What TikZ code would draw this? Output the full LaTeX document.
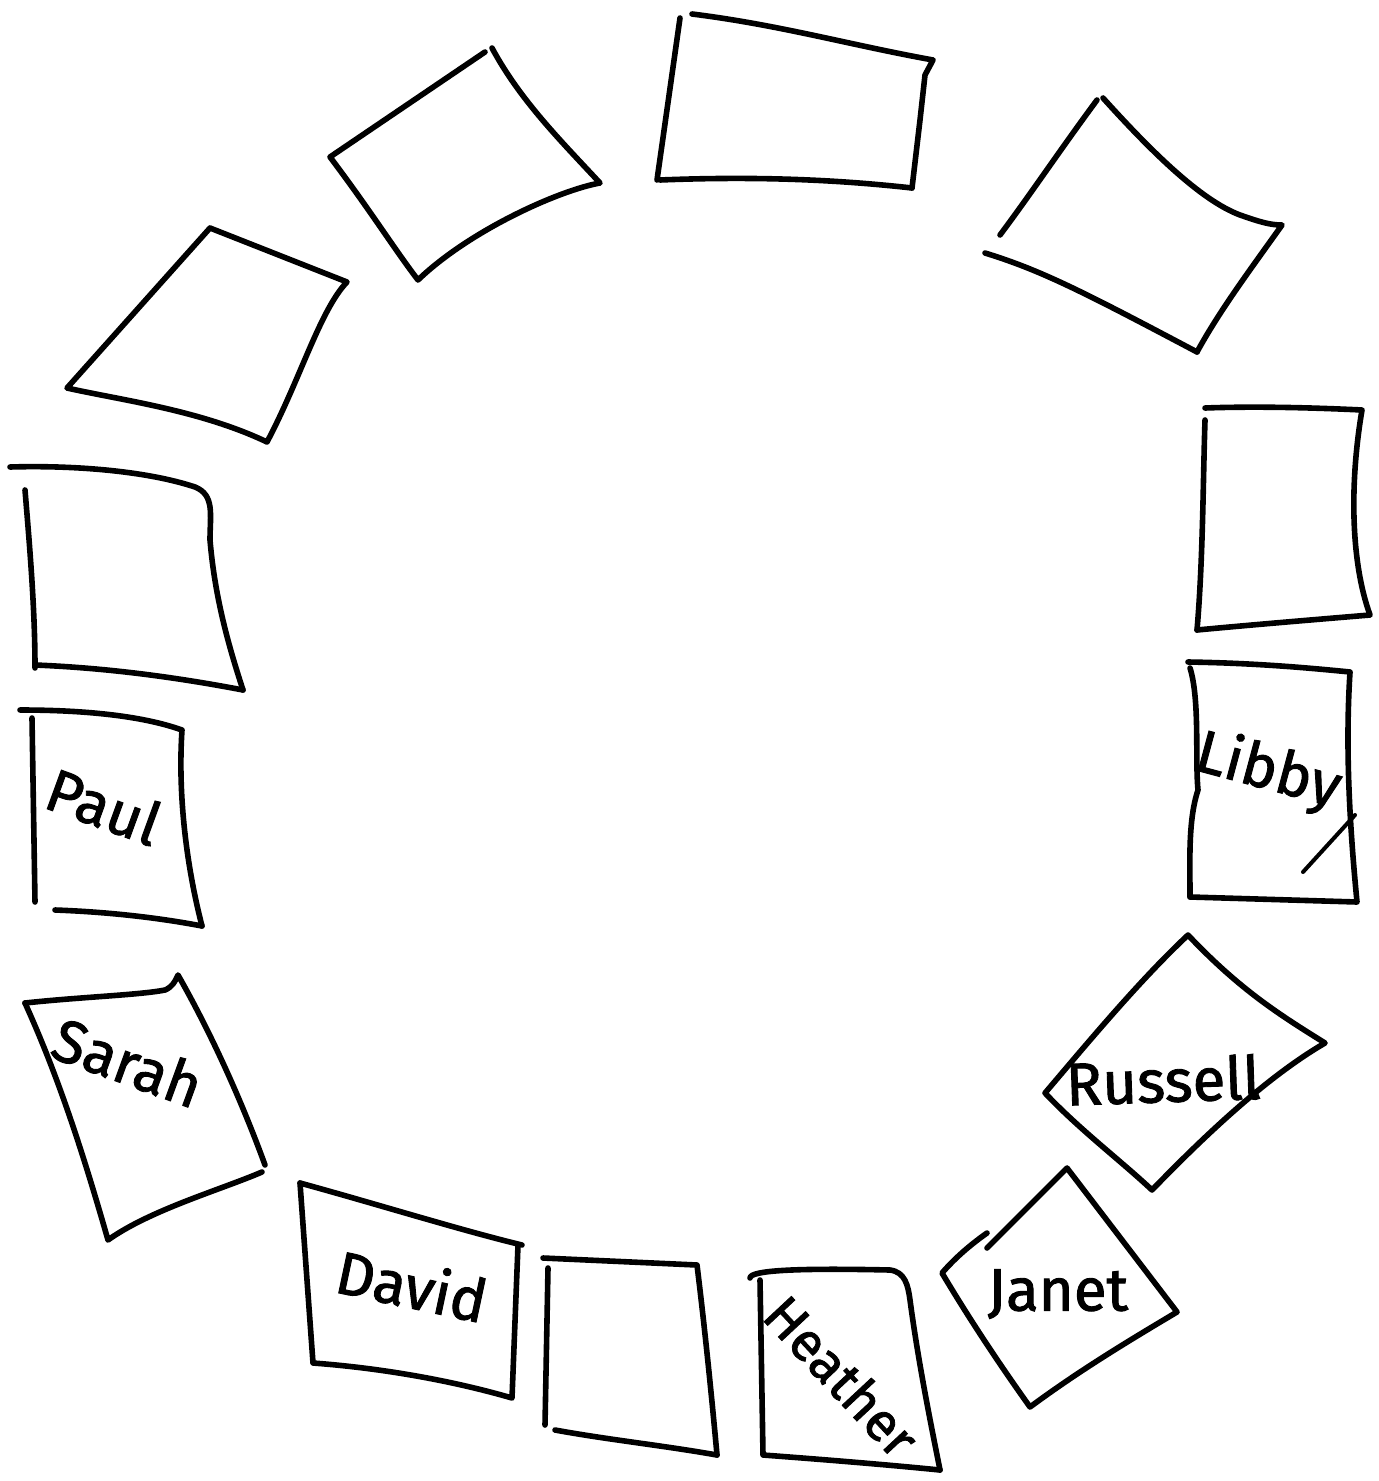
\documentclass[tikz,border=0pt]{standalone}
\usepackage{fontspec}
\newfontfamily\handfont[FakeBold=1.5]{Fira Sans}
\begin{document}
\begin{tikzpicture}[x=0.5pt,y=-0.5pt,
  pen/.style={line width=2.8pt,line cap=round,line join=round,black},
  thinpen/.style={line width=2pt,line cap=round,line join=round,black},
  namelbl/.style={font=\handfont\fontsize{30}{32}\selectfont,inner sep=0pt}]
\useasboundingbox[fill=white] (0,0) rectangle (1379,1481);
% top box
\draw[pen] (680,18) -- (657,180);
\draw[pen] (692,14) .. controls (780,25) and (850,45) .. (933,60) -- (925,75) -- (920,120) -- (912,188);
\draw[pen] (660,180) .. controls (760,176) and (840,180) .. (912,188);
% box 2
\draw[pen] (485,52) -- (330,157) .. controls (370,210) and (395,250) .. (418,280) .. controls (470,230) and (560,190) .. (600,183) .. controls (560,140) and (520,100) .. (492,48);
% box 3
\draw[pen] (210,228) -- (347,282) .. controls (320,310) and (300,380) .. (267,442) .. controls (200,410) and (120,400) .. (67,388) -- (210,228);
% left box
\draw[pen] (10,467) .. controls (80,465) and (150,472) .. (195,487) .. controls (215,495) and (210,515) .. (210,540) .. controls (215,600) and (230,650) .. (243,690);
\draw[pen] (25,490) .. controls (30,550) and (35,610) .. (35,668);
\draw[pen] (35,665) .. controls (110,668) and (180,678) .. (243,690);
% Paul box
\draw[pen] (20,710) .. controls (80,710) and (140,715) .. (182,730) .. controls (178,790) and (185,860) .. (202,926);
\draw[pen] (32,718) -- (35,902);
\draw[pen] (55,910) .. controls (110,912) and (160,918) .. (202,926);
% Sarah box
\draw[pen] (25,1003) .. controls (80,997) and (140,995) .. (165,990) .. controls (172,987) and (175,982) .. (178,975) .. controls (215,1040) and (245,1110) .. (265,1165);
\draw[pen] (25,1003) .. controls (60,1080) and (85,1160) .. (108,1240) .. controls (150,1210) and (220,1190) .. (262,1172);
% David box
\draw[pen] (300,1183) -- (313,1363) .. controls (380,1368) and (450,1380) .. (512,1398) -- (518,1245);
\draw[pen] (300,1183) .. controls (380,1205) and (460,1230) .. (522,1245);
% empty bottom box
\draw[pen] (543,1258) -- (697,1265) .. controls (705,1330) and (712,1400) .. (717,1455);
\draw[pen] (548,1268) -- (545,1425);
\draw[pen] (555,1430) .. controls (610,1440) and (660,1445) .. (717,1455);
% Heather box
\draw[pen] (750,1278) .. controls (750,1270) and (800,1268) .. (890,1270) .. controls (905,1272) and (908,1285) .. (910,1300) .. controls (918,1360) and (930,1420) .. (940,1470);
\draw[pen] (760,1280) -- (763,1455) .. controls (830,1460) and (890,1465) .. (940,1470);
% Janet box
\draw[pen] (987,1233) .. controls (970,1245) and (955,1258) .. (942,1273) .. controls (970,1320) and (1000,1365) .. (1030,1407) .. controls (1080,1370) and (1130,1340) .. (1177,1312) -- (1067,1168) -- (987,1248);
% Russell box
\draw[pen] (1188,935) .. controls (1140,980) and (1090,1040) .. (1045,1093) .. controls (1080,1130) and (1120,1160) .. (1152,1190) .. controls (1210,1130) and (1270,1075) .. (1325,1043) .. controls (1280,1015) and (1240,990) .. (1188,935);
% Libby box
\draw[pen] (1188,662) .. controls (1250,663) and (1300,667) .. (1350,672) .. controls (1345,750) and (1350,830) .. (1357,902) -- (1190,897);
\draw[pen] (1190,668) .. controls (1200,700) and (1195,760) .. (1198,790) .. controls (1188,820) and (1190,860) .. (1190,897);
\draw[thinpen] (1355,815) -- (1303,872);
% right empty box
\draw[pen] (1205,408) .. controls (1260,406) and (1320,408) .. (1362,410) .. controls (1350,480) and (1350,560) .. (1370,615) .. controls (1310,620) and (1250,625) .. (1197,630);
\draw[pen] (1205,420) .. controls (1203,480) and (1203,560) .. (1197,630);
% top-right box
\draw[pen] (1097,100) .. controls (1060,150) and (1030,195) .. (1000,235);
\draw[pen] (1103,98) .. controls (1150,150) and (1200,200) .. (1240,215) .. controls (1260,222) and (1270,225) .. (1282,225) .. controls (1250,270) and (1220,310) .. (1197,352);
\draw[pen] (985,253) .. controls (1040,270) and (1080,290) .. (1197,352);
% names
\node[namelbl,rotate=-20] (paul) at (104,806) {Paul};
\node[namelbl,rotate=-20] (sarah) at (128,1062) {Sarah};
\node[namelbl,rotate=-12] (david) at (412,1285) {David};
\node[namelbl,rotate=-47,font=\handfont\fontsize{27}{30}\selectfont] (heather) at (842,1376) {Heather};
\node[namelbl,rotate=0] (janet) at (1058,1294) {Janet};
\node[namelbl,rotate=2] (russell) at (1163,1080) {Russell};
\node[namelbl,rotate=-15] (libby) at (1268,772) {Libby};
\end{tikzpicture}
\end{document}
